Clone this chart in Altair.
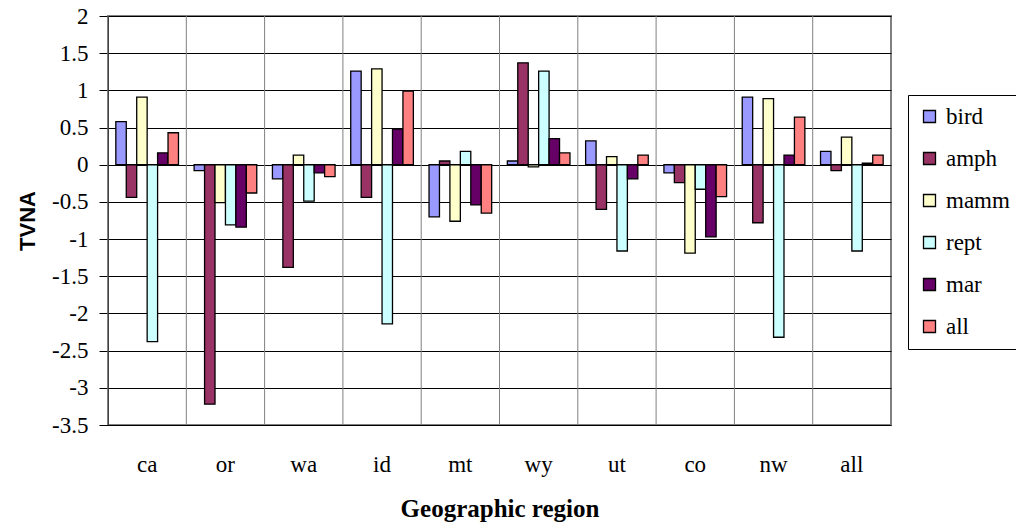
import altair as alt
import pandas as pd

regions = ["ca", "or", "wa", "id", "mt", "wy", "ut", "co", "nw", "all"]
series = ["bird", "amph", "mamm", "rept", "mar", "all"]
colors = ["#9999FF", "#993366", "#FFFFCC", "#CCFFFF", "#660066", "#FF8080"]

bird = [0.58, -0.08, -0.19, 1.26, -0.70, 0.05, 0.32, -0.11, 0.91, 0.18]
amph = [-0.44, -3.22, -1.38, -0.44, 0.05, 1.37, -0.60, -0.24, -0.78, -0.08]
mamm = [0.91, -0.51, 0.13, 1.29, -0.76, -0.03, 0.11, -1.19, 0.89, 0.37]
rept = [-2.38, -0.81, -0.49, -2.14, 0.18, 1.26, -1.16, -0.33, -2.32, -1.16]
mar = [0.16, -0.84, -0.11, 0.48, -0.54, 0.35, -0.19, -0.97, 0.13, 0.02]
all_ = [0.43, -0.38, -0.16, 0.99, -0.65, 0.16, 0.13, -0.43, 0.64, 0.13]
yticks = [2, 1.5, 1, 0.5, 0, -0.5, -1, -1.5, -2, -2.5, -3, -3.5]

values = {"bird": bird, "amph": amph, "mamm": mamm, "rept": rept, "mar": mar, "all": all_}
rows = []
for s in series:
    for r, v in zip(regions, values[s]):
        rows.append({"region": r, "series": s, "value": v})
df = pd.DataFrame(rows)
grid_df = pd.DataFrame({"region": regions})

serif = "Liberation Serif"
sans = "Liberation Sans"

xscale = alt.Scale(domain=regions, paddingInner=0, paddingOuter=0)

xaxis = alt.Axis(
    title="Geographic region",
    titleFont=serif,
    titleFontSize=25,
    titleFontWeight="bold",
    titleColor="black",
    titlePadding=20,
    labelFont=serif,
    labelFontSize=23,
    labelColor="black",
    labelAngle=0,
    labelPadding=28,
    ticks=False,
    domain=False,
    grid=False,
)

vgrid = alt.Chart(grid_df).mark_rule(color="#808080", strokeWidth=1).encode(
    x=alt.X("region:N", bandPosition=0, scale=xscale, sort=regions, axis=xaxis)
)

bars = alt.Chart(df).mark_bar(stroke="black", strokeWidth=1.3).encode(
    x=alt.X("region:N", scale=xscale, sort=regions, axis=xaxis),
    xOffset=alt.XOffset(
        "series:N", sort=series, scale=alt.Scale(domain=series, paddingInner=0, paddingOuter=0.75)
    ),
    y=alt.Y(
        "value:Q",
        scale=alt.Scale(domain=[-3.5, 2], nice=False, zero=False),
        axis=alt.Axis(
            title="TVNA",
            titleFont=sans,
            titleFontSize=22,
            titleFontWeight="bold",
            titleColor="black",
            titlePadding=12,
            values=yticks,
            labelExpr="'' + datum.value",
            labelFont=serif,
            labelFontSize=23,
            labelColor="black",
            labelPadding=11,
            tickSize=9,
            tickColor="black",
            domainColor="black",
            gridColor="black",
            gridWidth=1,
        ),
    ),
    color=alt.Color(
        "series:N",
        sort=series,
        scale=alt.Scale(domain=series, range=colors),
        legend=alt.Legend(
            title=None,
            orient="none",
            legendX=800,
            legendY=79,
            strokeColor="black",
            fillColor="white",
            padding=10,
            rowPadding=18,
            symbolType="square",
            symbolSize=144,
            symbolStrokeColor="black",
            symbolStrokeWidth=1.3,
            symbolOffset=0,
            labelFont=serif,
            labelFontSize=23,
            labelColor="black",
            labelOffset=5,
        ),
    ),
)

chart = (
    alt.layer(vgrid, bars)
    .properties(
        width=783,
        height=409,
        autosize=alt.AutoSizeParams(type="none"),
        padding={"left": 108, "top": 16, "right": 125, "bottom": 102},
        background="white",
    )
    .configure_view(stroke="#808080", strokeWidth=2)
)

chart.save("out.html", embed_options={"renderer": "svg", "actions": False})
